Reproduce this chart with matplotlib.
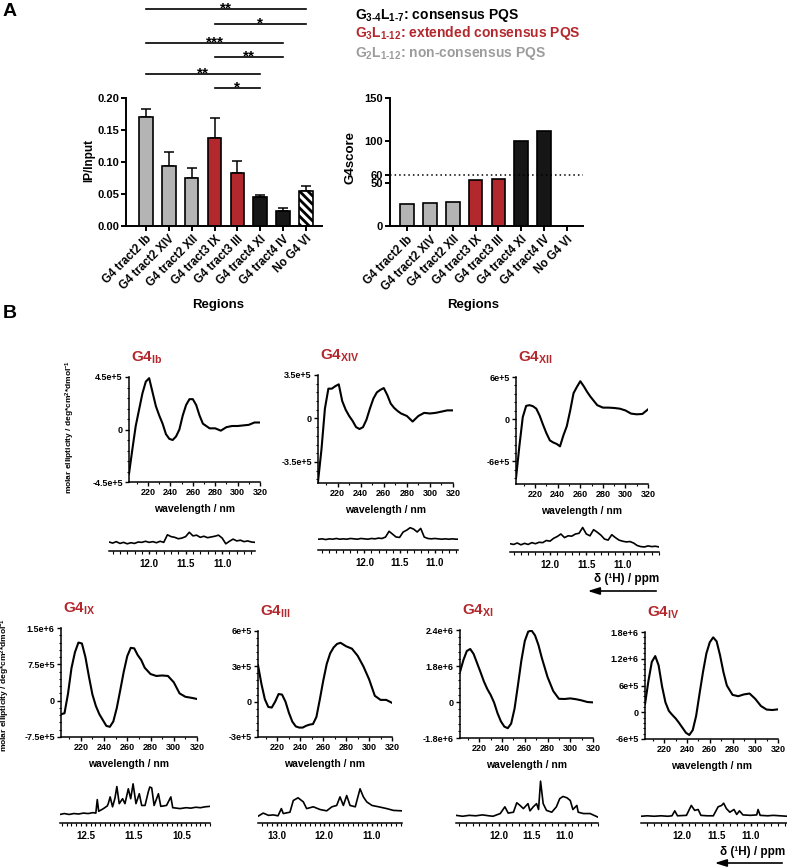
import numpy as np
import matplotlib
matplotlib.use('Agg')
import matplotlib.pyplot as plt
from matplotlib.patches import FancyArrowPatch
from matplotlib.ticker import MultipleLocator, AutoMinorLocator

plt.rcParams['font.family'] = ['Liberation Sans', 'DejaVu Sans']
plt.rcParams['font.weight'] = 'bold'
plt.rcParams['mathtext.default'] = 'regular'
plt.rcParams['hatch.linewidth'] = 2.0

# ---------------- panel A data
regions = ['G4 tract2 Ib', 'G4 tract2 XIV', 'G4 tract2 XII', 'G4 tract3 IX',
           'G4 tract3 III', 'G4 tract4 XI', 'G4 tract4 IV', 'No G4 VI']
ip_input = [0.170, 0.093, 0.074, 0.137, 0.082, 0.045, 0.022, 0.054]
ip_sem = [0.012, 0.022, 0.016, 0.031, 0.019, 0.003, 0.006, 0.008]
g4score = [25.4, 26.6, 28.5, 53.5, 55.4, 99.2, 111.3, 0]
groups = ['non', 'non', 'non', 'ext', 'ext', 'cons', 'cons', 'none']
sig_pairs = [(0, 7, '**'), (3, 7, '*'), (0, 6, '***'), (3, 6, '**'), (0, 5, '**'), (3, 5, '*')]

# ---------------- panel B data: CD spectra (molar ellipticity, x1e5)
cd_wl = [203, 206, 209, 212, 215, 218, 221, 224, 227, 230, 233, 236, 239, 242, 245, 248, 251,
         254, 257, 260, 263, 266, 269, 272, 275, 280, 285, 290, 295, 300, 305, 310, 315, 320]
cd_ib = [-3.8, -1.7, 0.3, 1.7, 3.1, 4.1, 4.4, 3.2, 2.0, 1.2, 0.5, -0.4, -0.8, -0.9, -0.6, 0.0, 1.2,
         2.1, 2.6, 2.6, 2.1, 1.2, 0.5, 0.3, 0.1, 0.1, -0.1, 0.2, 0.3, 0.3, 0.35, 0.4, 0.6, 0.6]
cd_xiv = [-5.1, -2.5, 0.8, 2.4, 2.4, 2.6, 2.75, 1.4, 0.7, 0.2, -0.2, -0.7, -0.85, -0.7, -0.1, 0.8, 1.6,
          2.1, 2.3, 2.45, 1.9, 1.2, 0.85, 0.6, 0.4, 0.2, -0.25, 0.2, 0.45, 0.4, 0.45, 0.55, 0.65, 0.65]
cd_xii = [-8.4, -3.8, 0.3, 1.9, 2.0, 1.85, 1.5, 0.5, -0.8, -2.0, -3.0, -3.3, -3.5, -3.85, -2.3, -1.0, 1.2,
          3.7, 4.6, 5.4, 4.7, 3.9, 3.2, 2.6, 2.0, 1.65, 1.65, 1.6, 1.5, 1.25, 0.8, 0.7, 0.75, 1.4]
cd_ix = [-2.8, -2.6, 1.4, 6.7, 10.0, 12.0, 11.8, 9.0, 5.0, 1.3, -1.1, -2.8, -4.0, -5.2, -5.4, -4.3, -1.5,
         2.2, 6.0, 9.2, 10.9, 10.8, 9.4, 8.4, 6.8, 5.5, 5.1, 5.2, 5.1, 3.8, 1.5, 0.8, 0.6, 0.35]
cd_iii = [3.1, 1.5, 0.2, -0.45, -0.5, 0.0, 0.65, 0.6, 0.0, -0.95, -1.7, -2.1, -2.2, -2.2, -2.05, -1.95, -1.9,
          -1.3, 0.2, 1.8, 3.2, 4.1, 4.6, 4.9, 5.0, 4.7, 4.5, 3.9, 3.0, 1.9, 0.5, 0.15, 0.15, -0.1]
cd_xi = [15, 21, 25.5, 26.5, 24, 19.5, 15, 10.3, 6.5, 3.5, -0.3, -5.6, -9.7, -12.3, -13.1, -10.8, -3.3,
         8.5, 20.8, 30.5, 35.2, 35.7, 33.3, 28.5, 22, 12.5, 5.5, 1.6, 1.5, 1.8, 1.4, 0.8, 0.0, -0.2]
cd_iv = [1.8, 7.0, 11.3, 12.6, 10.5, 5.8, 2.2, 0.3, -0.6, -1.4, -2.4, -3.5, -4.6, -5.1, -4.0, -0.8, 4.2,
         9.0, 13.2, 15.7, 16.8, 15.9, 12.8, 9.0, 6.0, 3.9, 3.6, 4.0, 4.2, 3.0, 1.4, 0.6, 0.5, 0.65]

# ---------------- panel B data: 1H NMR imino region (relative intensity)
ppm_ib = np.linspace(12.55, 10.55, 41)
nmr_ib = [0.25, 0.22, 0.26, 0.21, 0.24, 0.20, 0.23, 0.21, 0.25, 0.24, 0.27, 0.24, 0.26, 0.23,
          0.27, 0.24, 0.45, 0.40, 0.38, 0.34, 0.36, 0.40, 0.52, 0.42, 0.44, 0.38, 0.41, 0.37,
          0.39, 0.41, 0.44, 0.36, 0.20, 0.27, 0.33, 0.28, 0.30, 0.26, 0.28, 0.25, 0.24]
ppm_xiv = np.linspace(12.65, 10.65, 41)
nmr_xiv = [0.30, 0.31, 0.29, 0.31, 0.30, 0.32, 0.30, 0.31, 0.30, 0.32, 0.31, 0.30, 0.32, 0.31,
           0.30, 0.32, 0.31, 0.33, 0.32, 0.36, 0.52, 0.44, 0.36, 0.35, 0.50, 0.55, 0.62, 0.58,
           0.50, 0.60, 0.36, 0.32, 0.31, 0.32, 0.31, 0.30, 0.31, 0.30, 0.31, 0.30, 0.30]
ppm_xii = np.linspace(12.55, 10.50, 42)
nmr_xii = [0.23, 0.21, 0.25, 0.20, 0.24, 0.21, 0.26, 0.23, 0.27, 0.26, 0.32, 0.30, 0.38, 0.43,
           0.50, 0.40, 0.45, 0.44, 0.50, 0.52, 0.68, 0.50, 0.45, 0.62, 0.55, 0.47, 0.36, 0.33,
           0.48, 0.40, 0.33, 0.30, 0.28, 0.29, 0.25, 0.18, 0.15, 0.14, 0.17, 0.15, 0.16, 0.14]
ppm_ix = [13.04, 12.95, 12.85, 12.75, 12.65, 12.55, 12.45, 12.35, 12.29, 12.26, 12.23, 12.13,
          12.05, 12.03, 11.99, 11.94, 11.89, 11.85, 11.80, 11.73, 11.68, 11.61, 11.56, 11.51,
          11.45, 11.38, 11.33, 11.26, 11.19, 11.16, 11.12, 11.07, 10.98, 10.93, 10.81, 10.72,
          10.68, 10.60, 10.53, 10.40, 10.30, 10.20, 10.10, 10.00, 9.90]
nmr_ix = [0.19, 0.21, 0.19, 0.21, 0.20, 0.22, 0.21, 0.23, 0.22, 0.52, 0.26, 0.32, 0.38, 0.43,
          0.58, 0.36, 0.55, 0.81, 0.43, 0.54, 0.43, 0.76, 0.54, 0.87, 0.43, 0.65, 0.39, 0.39,
          0.70, 0.80, 0.78, 0.39, 0.65, 0.37, 0.39, 0.58, 0.34, 0.33, 0.32, 0.34, 0.33, 0.35,
          0.34, 0.36, 0.37]
ppm_iii = [13.39, 13.28, 13.17, 13.07, 12.97, 12.90, 12.86, 12.72, 12.65, 12.55, 12.44, 12.37,
           12.23, 12.09, 11.95, 11.84, 11.74, 11.67, 11.60, 11.53, 11.46, 11.35, 11.25, 11.18,
           11.11, 11.00, 10.86, 10.69, 10.55, 10.37]
nmr_iii = [0.15, 0.22, 0.17, 0.18, 0.16, 0.32, 0.21, 0.24, 0.50, 0.56, 0.47, 0.32, 0.36, 0.30,
           0.27, 0.36, 0.39, 0.58, 0.39, 0.61, 0.39, 0.36, 0.76, 0.58, 0.47, 0.39, 0.36, 0.32,
           0.28, 0.27]
ppm_xi = [12.65, 12.55, 12.45, 12.35, 12.25, 12.15, 12.09, 11.98, 11.91, 11.86, 11.78, 11.73,
          11.68, 11.63, 11.56, 11.53, 11.48, 11.43, 11.40, 11.37, 11.33, 11.28, 11.20, 11.13,
          11.08, 11.03, 10.97, 10.92, 10.88, 10.82, 10.80, 10.72, 10.62, 10.50]
nmr_xi = [0.17, 0.15, 0.17, 0.16, 0.18, 0.16, 0.15, 0.21, 0.36, 0.22, 0.24, 0.45, 0.39, 0.32,
          0.43, 0.27, 0.36, 0.43, 0.30, 0.93, 0.43, 0.28, 0.24, 0.36, 0.54, 0.59, 0.56, 0.50,
          0.30, 0.39, 0.24, 0.21, 0.21, 0.13]
ppm_iv = [12.59, 12.50, 12.40, 12.30, 12.20, 12.14, 12.10, 12.06, 11.93, 11.86, 11.81, 11.76,
          11.72, 11.63, 11.54, 11.47, 11.42, 11.39, 11.35, 11.30, 11.24, 11.20, 11.16, 11.11,
          11.00, 10.91, 10.89, 10.86, 10.75, 10.67, 10.47]
nmr_iv = [0.15, 0.16, 0.15, 0.16, 0.15, 0.16, 0.27, 0.16, 0.17, 0.39, 0.28, 0.30, 0.17, 0.16,
          0.16, 0.36, 0.39, 0.44, 0.32, 0.24, 0.30, 0.19, 0.27, 0.18, 0.17, 0.18, 0.30, 0.17,
          0.16, 0.17, 0.15]

RED = '#b3282d'
bar_face = {'non': '#b4b4b4', 'ext': '#b3282d', 'cons': '#161616', 'none': 'white'}

W, H = 787, 868
fig = plt.figure(figsize=(W / 100, H / 100), dpi=100)


def box(x0, y0, x1, y1):
    # axes from pixel box (top-left origin)
    return fig.add_axes([x0 / W, 1 - y1 / H, (x1 - x0) / W, (y1 - y0) / H])


def ftext(x, y, s, **kw):
    return fig.text(x / W, 1 - y / H, s, **kw)


def bar_style(ax):
    for s in ['top', 'right']:
        ax.spines[s].set_visible(False)
    for s in ['left', 'bottom']:
        ax.spines[s].set_linewidth(1.4)
    ax.tick_params(width=1.4, length=3.5, pad=1.5, labelsize=8)
    ax.set_xticks(xa)
    ax.set_xticklabels(regions, rotation=45, ha='right', va='top',
                       rotation_mode='anchor', fontsize=8.3)
    ax.tick_params(axis='x', pad=2)


xa = np.arange(len(regions))
faces = [bar_face[g] for g in groups]
hatches = ['\\\\\\\\' if g == 'none' else '' for g in groups]

# ---- IP/Input
ax1 = box(126, 98, 322, 225.5)
ax1.errorbar(xa, ip_input, yerr=[np.zeros(len(xa)), ip_sem], fmt='none', ecolor='black',
             elinewidth=1.1, capsize=3.5, capthick=1.1, zorder=1)
ax1.bar(xa, ip_input, 0.6, color=faces, edgecolor='black', linewidth=1.2, hatch=hatches, zorder=2)
ax1.set_xlim(-0.87, 7.7)
ax1.set_ylim(0, 0.2)
ax1.set_yticks([0, 0.05, 0.10, 0.15, 0.20])
ax1.set_yticklabels(['0.00', '0.05', '0.10', '0.15', '0.20'])
bar_style(ax1)

sig_y = [0.340, 0.3165, 0.2866, 0.2646, 0.2378, 0.2157]
for (i, j, s), y in zip(sig_pairs, sig_y):
    ax1.plot([i, j], [y, y], color='black', lw=1.2, clip_on=False)
    ax1.annotate(s, xy=((i + j) / 2, y), xytext=(0, -2.6), textcoords='offset points',
                 ha='center', va='baseline', fontsize=11, annotation_clip=False)

ftext(89, 160, 'IP/Input', rotation=90, ha='center', va='center', fontsize=8.5)
ftext(218, 305, 'Regions', ha='center', va='center', fontsize=9.5)

# ---- G4score
ax2 = box(390, 98, 583, 226)
ax2.bar(xa, g4score, 0.6, color=faces, edgecolor='black', linewidth=1.2, hatch=hatches)
ax2.axhline(60, color='black', lw=1.1, ls=(0, (1, 2)))
ax2.set_xlim(-0.74, 7.7)
ax2.set_ylim(0, 150)
ax2.set_yticks([0, 50, 60, 100, 150])
bar_style(ax2)
ftext(350, 157, 'G4score', rotation=90, ha='center', va='center', fontsize=9.5)
ftext(473, 305, 'Regions', ha='center', va='center', fontsize=9.5)

# ---- PQS legend
ftext(355, 18.5, 'G$_{3‐4}$L$_{1‐7}$: consensus PQS', fontsize=10, va='baseline', color='black')
ftext(355, 37.5, 'G$_{3}$L$_{1‐12}$: extended consensus PQS', fontsize=10, va='baseline', color=RED)
ftext(355, 56.5, 'G$_{2}$L$_{1‐12}$: non-consensus PQS', fontsize=10, va='baseline', color='#9c9c9c')

ftext(3, 11, 'A', fontsize=14, va='center')
ftext(3, 314, 'B', fontsize=14, va='center')


# ---------------- panel B
def cd_plot(x0, y0, x1, y1, vals, ylim, yticks, ylabels, name):
    ax = box(x0, y0, x1, y1)
    ax.patch.set_alpha(0)
    ax.plot(cd_wl, vals, color='black', lw=1.5, solid_joinstyle='round')
    ax.set_xlim(203, 320)
    ax.set_ylim(*ylim)
    ax.set_xticks([220, 240, 260, 280, 300, 320])
    ax.xaxis.set_minor_locator(MultipleLocator(10))
    ax.set_yticks(yticks)
    ax.set_yticklabels(ylabels)
    ax.yaxis.set_minor_locator(AutoMinorLocator(5))
    for s in ['top', 'right']:
        ax.spines[s].set_visible(False)
    for s in ['left', 'bottom']:
        ax.spines[s].set_linewidth(1.1)
    ax.tick_params(which='major', length=3, width=1, pad=1.5, labelsize=6.5)
    ax.tick_params(which='minor', length=1.6, width=0.8)
    ftext(x0 + 2, y0 - 19, 'G4$_{%s}$' % name, color=RED, fontsize=11, va='center', ha='left')
    ftext((x0 + x1) / 2, y1 + 27, 'wavelength / nm', ha='center', va='center', fontsize=7.5)
    return ax


def nmr_plot(x0, top, x1, spine, ppm, vals, xlim, ticks):
    ax = box(x0, top, x1, spine)
    ax.patch.set_alpha(0)
    ax.plot(ppm, vals, color='black', lw=1.2)
    ax.set_xlim(*xlim)
    ax.set_ylim(0, 1)
    for s in ['top', 'right', 'left']:
        ax.spines[s].set_visible(False)
    ax.spines['bottom'].set_linewidth(1.1)
    ax.set_yticks([])
    ax.set_xticks(ticks)
    ax.set_xticklabels(['%.1f' % t for t in ticks])
    ax.xaxis.set_minor_locator(MultipleLocator(0.1))
    ax.tick_params(which='major', length=2.5, width=1, pad=3.5, labelsize=7)
    ax.tick_params(which='minor', length=1.8, width=0.8)
    return ax


cd_plot(129, 377, 260, 482, cd_ib, (-4.5, 4.5), [-4.5, 0, 4.5], ['-4.5e+5', '0', '4.5e+5'], 'Ib')
cd_plot(318, 375, 453, 483, cd_xiv, (-5.2, 3.5), [-3.5, 0, 3.5], ['-3.5e+5', '0', '3.5e+5'], 'XIV')
cd_plot(516, 377, 648, 484, cd_xii, (-9.2, 6), [-6, 0, 6], ['-6e+5', '0', '6e+5'], 'XII')
cd_plot(61, 628, 197, 737, cd_ix, (-7.5, 15), [-7.5, 0, 7.5, 15],
        ['-7.5e+5', '0', '7.5e+5', '1.5e+6'], 'IX')
cd_plot(258, 631, 392, 737, cd_iii, (-3, 6), [-3, 0, 3, 6], ['-3e+5', '0', '3e+5', '6e+5'], 'III')
cd_plot(460, 630, 593, 738, cd_xi, (-18, 36), [-18, 0, 18, 36],
        ['-1.8e+6', '0', '1.8e+6', '2.4e+6'], 'XI')
cd_plot(645, 632, 778, 739, cd_iv, (-6, 18), [-6, 0, 6, 12, 18],
        ['-6e+5', '0', '6e+5', '1.2e+6', '1.8e+6'], 'IV')

ylab = 'molar ellipticity / deg*cm$^{2}$*dmol$^{-1}$'
ftext(70, 427, ylab, rotation=90, ha='center', va='center', fontsize=6)
ftext(5, 685, ylab, rotation=90, ha='center', va='center', fontsize=6)

nmr_plot(109, 515, 255, 551, ppm_ib, nmr_ib, (12.55, 10.55), [12.0, 11.5, 11.0])
nmr_plot(318, 514, 458, 550, ppm_xiv, nmr_xiv, (12.66, 10.67), [12.0, 11.5, 11.0])
nmr_plot(510, 516, 659, 552, ppm_xii, nmr_xii, (12.55, 10.50), [12.0, 11.5, 11.0])
nmr_plot(60, 778, 210, 823, ppm_ix, nmr_ix, (13.04, 9.90), [12.5, 11.5, 10.5])
nmr_plot(258, 778, 402, 823, ppm_iii, nmr_iii, (13.39, 10.37), [13.0, 12.0, 11.0])
nmr_plot(456, 778, 598, 823, ppm_xi, nmr_xi, (12.65, 10.50), [12.0, 11.5, 11.0])
nmr_plot(641, 778, 787, 823, ppm_iv, nmr_iv, (12.59, 10.47), [12.0, 11.5, 11.0])

# ppm direction labels
for xr, yt, ya, xl in [(659, 579, 591, 585), (785, 852, 863, 712)]:
    ftext(xr, yt, 'δ (¹H) / ppm', ha='right', va='center', fontsize=8.5)
    fig.add_artist(FancyArrowPatch((xr / W, 1 - ya / H), (xl / W, 1 - ya / H),
                                   transform=fig.transFigure, arrowstyle='-|>,head_length=0.7,head_width=0.22',
                                   mutation_scale=10, color='black', lw=1.2))

fig.savefig('out.png', dpi=100)
